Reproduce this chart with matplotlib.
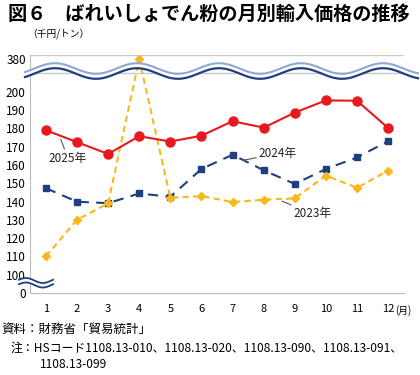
import numpy as np
import matplotlib.pyplot as plt

plt.rcParams['font.family'] = ['Noto Sans CJK JP', 'DejaVu Sans']

# monthly import price (thousand yen / ton)
months = list(range(1, 13))
price_2023 = [110, 130, 139, 380, 142, 143, 139.7, 141, 141.7, 154.2, 147.5, 156.9]
price_2024 = [147.3, 139.9, 139.1, 144.4, 142.6, 157.8, 165.6, 157.1, 149.6, 157.8, 164.1, 173]
price_2025 = [179, 172.5, 166, 175.7, 172.8, 176, 183.9, 180.4, 188.6, 195.3, 195.1, 180.2]

ytick_vals = [0, 100, 110, 120, 130, 140, 150, 160, 170, 180, 190, 200, 380]

# broken axis: 0-100 squeezed, 200-380 squeezed
K = 17.9 / 180.0


def fwd(v):
    v = np.asarray(v, dtype=float)
    return np.where(v < 100, 90 + v / 10.0, np.where(v <= 200, v, 200 + (v - 200) * K))


def inv(p):
    p = np.asarray(p, dtype=float)
    return np.where(p < 100, (p - 90) * 10.0, np.where(p <= 200, p, 200 + (p - 200) / K))


fig = plt.figure(figsize=(4.2, 3.75), dpi=100)
ax = fig.add_axes([30/420, 1-293/375, 374/420, (293-55.2)/375])
ax.set_yscale('function', functions=(fwd, inv))
ax.set_ylim(0, float(inv(220)))
ax.set_xlim(0.49, 12.51)

red = '#E8191E'
navy = '#1F3F7F'
yellow = '#F7B81A'

ax.plot(months, price_2025, color=red, lw=1.5, marker='o', ms=6.5, zorder=4)
ax.plot(months, price_2024, color=navy, lw=1.5, ls=(0, (5, 3.5)), marker='s', ms=5, zorder=3)
ax.plot(months, price_2023, color=yellow, lw=1.5, ls=(0, (3, 2)), marker='D', ms=4.5, zorder=3)

# grid lines
ax.set_yticks(ytick_vals)
ax.set_yticklabels([str(v) for v in ytick_vals], fontsize=8.5)
ax.set_yticks(inv(np.arange(100, 221, 10)), minor=True)
ax.yaxis.grid(True, which='minor', color='#C8C8C8', lw=1)
ax.tick_params(axis='y', which='both', length=0, pad=3)
ax.set_xticks(months)
ax.set_xticklabels([str(m) for m in months], fontsize=8)
ax.tick_params(axis='x', length=0, pad=8)
for s in ['top', 'right']:
    ax.spines[s].set_visible(False)
ax.spines['left'].set_color('#BBBBBB')
ax.spines['bottom'].set_color('#BBBBBB')
ax.set_axisbelow(True)

# year labels
lab = dict(fontsize=8.5, ha='center', va='center', color='#222222')
arr = dict(arrowstyle='-', color='#555555', lw=0.8, shrinkA=0, shrinkB=0)
ax.annotate('2025年', xy=(1.48, 173.9), xytext=(1.71, 163.6), arrowprops=arr, **lab)
ax.annotate('2024年', xy=(7.33, 162.5), xytext=(8.46, 166.3), arrowprops=arr, **lab)
ax.annotate('2023年', xy=(8.59, 140.2), xytext=(9.58, 133.2), arrowprops=arr, **lab)

# wave break at top (figure pixel coords)
W, H = 420.0, 375.0
xs = np.linspace(25, 418, 400)
y_dark = 73.5 - 5.3 * np.cos(2 * np.pi * (xs - 55) / 82.0)
y_light = y_dark - 5.0
fig.patches.append(plt.Polygon(
    np.column_stack([np.r_[xs, xs[::-1]] / W, 1 - np.r_[y_dark, y_light[::-1]] / H]),
    closed=True, transform=fig.transFigure, fc='white', ec='none', zorder=5))
fig.lines.append(plt.Line2D(xs / W, 1 - y_light / H, transform=fig.transFigure,
                            color='#8FA8D0', lw=1.5, zorder=6))
fig.lines.append(plt.Line2D(xs / W, 1 - y_dark / H, transform=fig.transFigure,
                            color=navy, lw=1.6, zorder=6))

# small wave at bottom left
xb = np.linspace(19, 53, 100)
yb = 285 - 2.5 * np.sin(2 * np.pi * (xb - 19) / 34.0 + 0.3)
fig.patches.append(plt.Polygon(
    np.column_stack([np.r_[xb, xb[::-1]] / W, 1 - np.r_[yb, yb[::-1] - 4.5] / H]),
    closed=True, transform=fig.transFigure, fc='white', ec='none', zorder=5))
fig.lines.append(plt.Line2D(xb / W, 1 - yb / H, transform=fig.transFigure,
                            color=navy, lw=1.3, zorder=6))
fig.lines.append(plt.Line2D(xb / W, 1 - (yb - 4.5) / H, transform=fig.transFigure,
                            color=navy, lw=1.3, zorder=6))

# texts
fig.text(8/W, 1-14/H, '図６　ばれいしょでん粉の月別輸入価格の推移', fontsize=13.8,
         fontweight='bold', ha='left', va='center')
fig.text(27/W, 1-34/H, '（千円/トン）', fontsize=7, ha='left', va='center')
fig.text(395/W, 1-311/H, '(月)', fontsize=7, ha='left', va='center')
fig.text(1/W, 1-329/H, '資料：財務省「貿易統計」', fontsize=9, ha='left', va='center')
fig.text(11/W, 1-348/H, '注：HSコード1108.13-010、1108.13-020、1108.13-090、1108.13-091、',
         fontsize=8.6, ha='left', va='center')
fig.text(40/W, 1-364/H, '1108.13-099', fontsize=8.6, ha='left', va='center')

fig.savefig('out.png', dpi=100)
